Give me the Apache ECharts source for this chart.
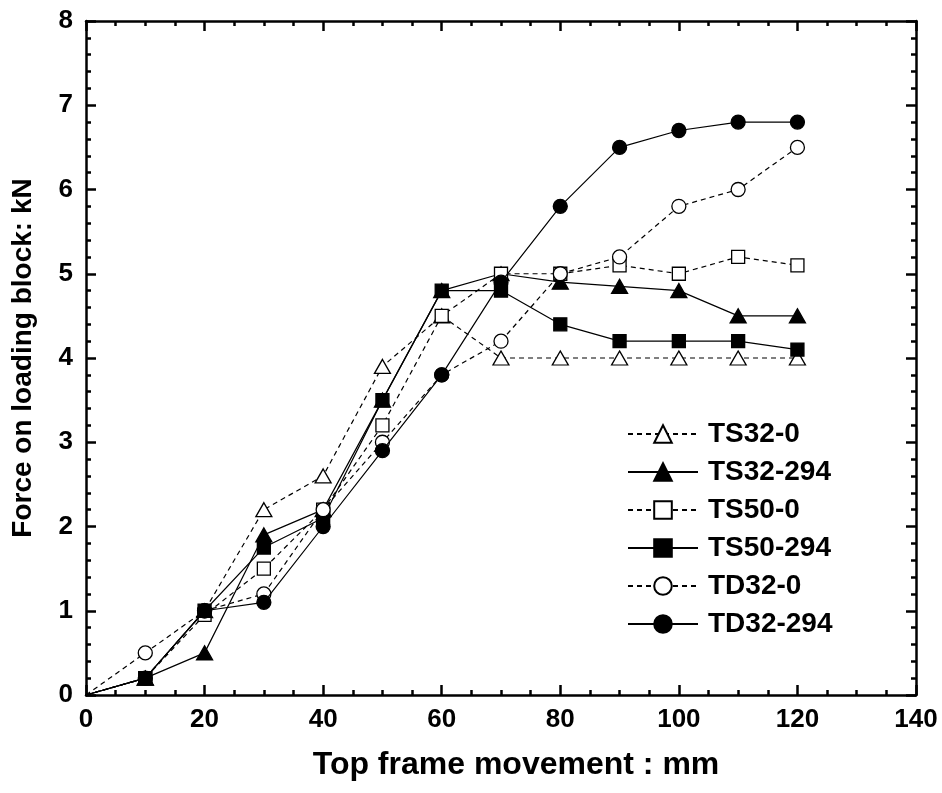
<!DOCTYPE html>
<html>
<head>
<meta charset="utf-8">
<script src="https://cdn.jsdelivr.net/npm/echarts@6/dist/echarts.min.js"></script>
<style>
html,body{margin:0;padding:0;background:#fff;}
#chart{width:942px;height:793px;}
</style>
</head>
<body>
<div id="chart"></div>
<script>
// ---- data ----
var movement = [0, 10, 20, 30, 40, 50, 60, 70, 80, 90, 100, 110, 120];
var seriesNames = ['TS32-0', 'TS32-294', 'TS50-0', 'TS50-294', 'TD32-0', 'TD32-294'];
var ts32_0   = [0, 0.2, 1.0, 2.2, 2.6, 3.9, 4.5, 4.0, 4.0, 4.0, 4.0, 4.0, 4.0];
var ts32_294 = [0, 0.2, 0.5, 1.9, 2.2, 3.5, 4.8, 5.0, 4.9, 4.85, 4.8, 4.5, 4.5];
var ts50_0   = [0, 0.2, 0.95, 1.5, 2.2, 3.2, 4.5, 5.0, 5.0, 5.1, 5.0, 5.2, 5.1];
var ts50_294 = [0, 0.2, 1.0, 1.75, 2.1, 3.5, 4.8, 4.8, 4.4, 4.2, 4.2, 4.2, 4.1];
var td32_0   = [0, 0.5, 1.0, 1.2, 2.2, 3.0, 3.8, 4.2, 5.0, 5.2, 5.8, 6.0, 6.5];
var td32_294 = [0, 0.2, 1.0, 1.1, 2.0, 2.9, 3.8, 4.9, 5.8, 6.5, 6.7, 6.8, 6.8];
var xTicks = [0, 20, 40, 60, 80, 100, 120, 140];
var yTicks = [0, 1, 2, 3, 4, 5, 6, 7, 8];

var FONT = '"Liberation Sans", Arial, sans-serif';
var values = [ts32_0, ts32_294, ts50_0, ts50_294, td32_0, td32_294];
var symbols = ['triangle', 'triangle', 'rect', 'rect', 'circle', 'circle'];
var sizes = [[16, 14], [16, 14], 13, 13, 14, 14];
var filled = [false, true, false, true, false, true];
var dashed = [true, false, true, false, true, false];

function pairs(ys) {
  return ys.map(function (y, i) {
    var item = { value: [movement[i], y] };
    if (i === 0) item.symbol = 'none';
    return item;
  });
}

var series = seriesNames.map(function (name, k) {
  return {
    name: name,
    type: 'line',
    data: pairs(values[k]),
    symbol: symbols[k],
    symbolSize: sizes[k],
    showSymbol: true,
    clip: true,
    z: 3 + k,
    lineStyle: { color: '#000', width: 1.2, type: dashed[k] ? [5, 4] : 'solid' },
    itemStyle: { color: filled[k] ? '#000' : '#fff', borderColor: '#000', borderWidth: 1.3, opacity: 1 },
    emphasis: { disabled: true },
    animation: false
  };
});

var axisLine = { show: true, onZero: false, lineStyle: { color: '#000', width: 2.5 } };
var axisTick = { show: true, inside: true, length: 10, lineStyle: { color: '#000', width: 2.5 } };

function xAxisDef(pos, showLabel) {
  return {
    type: 'value', position: pos, min: xTicks[0], max: xTicks[xTicks.length - 1], interval: 20,
    axisLine: axisLine, axisTick: axisTick, splitLine: { show: false },
    minorTick: { show: true, splitNumber: 4, length: 5, lineStyle: { color: '#000', width: 2.5 } },
    axisLabel: { show: showLabel, color: '#000', fontFamily: FONT, fontWeight: 'bold', fontSize: 26, margin: 12 },
    name: showLabel ? 'Top frame movement : mm' : '',
    nameLocation: 'middle', nameGap: 54,
    nameTextStyle: { color: '#000', fontFamily: FONT, fontWeight: 'bold', fontSize: 32, padding: [0, 0, 0, 30] }
  };
}
function yAxisDef(pos, showLabel) {
  return {
    type: 'value', position: pos, min: yTicks[0], max: yTicks[yTicks.length - 1], interval: 1,
    axisLine: axisLine, axisTick: axisTick, splitLine: { show: false },
    minorTick: { show: true, splitNumber: 5, length: 5, lineStyle: { color: '#000', width: 2.5 } },
    axisLabel: { show: showLabel, color: '#000', fontFamily: FONT, fontWeight: 'bold', fontSize: 26, margin: 13 },
    name: showLabel ? 'Force on loading block: kN' : '',
    nameLocation: 'middle', nameGap: 49, nameRotate: 90,
    nameTextStyle: { color: '#000', fontFamily: FONT, fontWeight: 'bold', fontSize: 28 }
  };
}

var chart = echarts.init(document.getElementById('chart'), null, { renderer: 'canvas' });
chart.setOption({
  animation: false,
  backgroundColor: '#fff',
  grid: { left: 86, right: 26, top: 21, bottom: 98, containLabel: false },
  xAxis: [xAxisDef('bottom', true), xAxisDef('top', false)],
  yAxis: [yAxisDef('left', true), yAxisDef('right', false)],
  legend: {
    orient: 'vertical', left: 622, top: 415,
    itemWidth: 70, itemHeight: 22, itemGap: 10,
    data: seriesNames,
    textStyle: { color: '#000', fontFamily: FONT, fontWeight: 'bold', fontSize: 28, padding: [0, 0, 0, 5] },
    selectedMode: false
  },
  series: series
});
</script>
</body>
</html>
